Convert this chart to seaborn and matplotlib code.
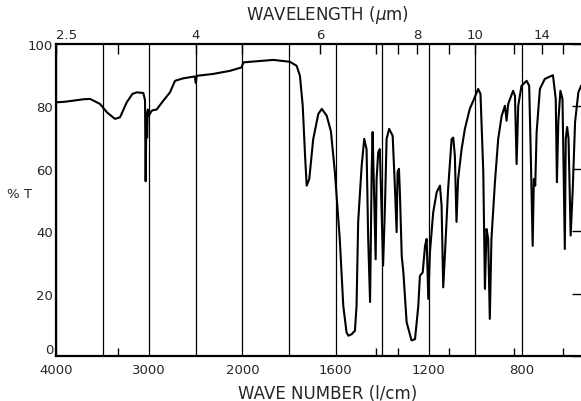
import numpy as np
import pandas as pd
import seaborn as sns
import matplotlib.pyplot as plt

# IR spectrum: wave number (1/cm) and % transmittance
wavenumber = [4000, 3900, 3700, 3635, 3528, 3450, 3367, 3313, 3241, 3180, 3134, 3063,
              3045, 3038, 3030, 3022, 3015, 3005, 2973, 2956, 2920, 2849, 2777, 2723,
              2634, 2510, 2500, 2490, 2315, 2133, 2008, 1996, 1967, 1867, 1796, 1767,
              1753, 1741, 1731, 1724, 1713, 1696, 1674, 1659, 1638, 1620, 1603, 1582,
              1567, 1553, 1545, 1530, 1524, 1517, 1510, 1503, 1488, 1477, 1467, 1460,
              1452, 1445, 1441, 1435, 1428, 1424, 1417, 1410, 1403, 1396, 1388, 1381,
              1370, 1355, 1345, 1338, 1334, 1328, 1324, 1316, 1309, 1295, 1274, 1259,
              1245, 1238, 1226, 1216, 1209, 1202, 1195, 1181, 1166, 1152, 1145, 1138,
              1131, 1117, 1102, 1095, 1088, 1081, 1074, 1059, 1045, 1024, 1009, 988,
              978, 966, 959, 952, 945, 938, 931, 916, 902, 887, 873, 866, 859, 838,
              830, 823, 816, 802, 780, 769, 763, 754, 749, 743, 737, 723, 702, 667,
              655, 650, 644, 635, 626, 620, 616, 612, 606, 600, 591, 582, 572, 558,
              546, 538]
transmittance = [81.3, 81.5, 82.3, 82.4, 80.8, 78.0, 76.0, 76.5, 81.3, 84.0, 84.5, 84.3,
                 82.0, 56.0, 78.0, 70.0, 79.0, 77.0, 78.6, 78.8, 79.0, 81.8, 84.5, 88.2,
                 89.0, 89.6, 87.5, 89.8, 90.4, 91.4, 92.5, 94.1, 94.3, 94.9, 94.3, 93.0,
                 89.8, 80.2, 64.2, 54.6, 56.7, 69.5, 77.6, 79.2, 77.0, 72.0, 58.9, 37.5,
                 16.1, 7.6, 6.5, 7.0, 7.6, 8.0, 16.0, 43.0, 61.0, 69.6, 66.3, 37.5,
                 17.3, 59.0, 71.8, 53.5, 31.0, 56.7, 65.3, 66.3, 48.2, 29.0, 48.0, 69.6,
                 72.8, 70.6, 53.5, 39.7, 59.0, 60.0, 52.5, 32.0, 26.8, 10.8, 5.0, 5.4,
                 16.0, 25.7, 26.8, 35.3, 37.5, 18.3, 33.2, 46.0, 52.5, 54.6, 48.2, 22.0,
                 32.0, 53.5, 69.5, 70.0, 64.2, 43.0, 56.7, 66.3, 72.8, 79.2, 81.8, 85.6,
                 84.0, 59.0, 21.5, 40.7, 37.5, 11.9, 37.5, 55.7, 69.6, 77.0, 80.2, 75.4,
                 80.8, 85.0, 83.4, 61.5, 80.2, 86.6, 88.2, 86.6, 67.4, 35.3, 56.7, 54.6,
                 71.8, 85.6, 88.8, 90.0, 82.4, 55.7, 75.0, 85.0, 82.4, 53.5, 34.3, 69.6,
                 73.4, 69.6, 38.6, 53.5, 75.0, 84.5, 86.6, 87.5]

grid_wn = [4000, 3500, 3000, 2500, 2000, 1800, 1600, 1400, 1200, 1000, 800]
grid_labels = ['4000', '', '3000', '', '2000', '', '1600', '', '1200', '', '800']
um_major = [2.5, 4, 6, 8, 10, 14]
um_minor = [3, 5, 7, 7.5, 9, 12, 16]
t_ticks = [0, 20, 40, 60, 80, 100]


# chart paper: 500 1/cm per division above 2000, 200 1/cm per division below
def fwd(w):
    w = np.asarray(w, dtype=float)
    return np.where(w >= 2000, (4000 - w) / 500, 4 + (2000 - w) / 200)


def inv(u):
    u = np.asarray(u, dtype=float)
    return np.where(u <= 4, 4000 - 500 * u, 2000 - 200 * (u - 4))


sns.set_style("white")
plt.rcParams['font.family'] = ['DejaVu Sans']

df = pd.DataFrame({'wn': wavenumber, 'T': transmittance})

fig = plt.figure(figsize=(5.81, 4.02), dpi=100)
ax = fig.add_axes([56 / 581, 45 / 402, 527 / 581, 312 / 402])
ax.set_xscale('function', functions=(fwd, inv))

sns.lineplot(data=df, x='wn', y='T', color='black', linewidth=1.5,
             estimator=None, ax=ax)

ax.set_xlim(538, 4000)
ax.set_ylim(0, 100)

ax.set_xticks(grid_wn)
ax.set_xticklabels(grid_labels, fontsize=9.5)
ax.set_xticks([1e4 / l for l in um_minor], minor=True)
ax.tick_params(axis='x', which='major', length=0, pad=5)
ax.tick_params(axis='x', which='minor', direction='in', length=6, width=1, color='black')
ax.xaxis.grid(True, which='major', color='black', linewidth=0.9)

ax.set_yticks(t_ticks)
ax.set_yticklabels([str(t) for t in t_ticks], fontsize=9.5)
ax.get_yticklabels()[0].set_va('bottom')
ax.tick_params(axis='y', direction='in', length=8, width=1, right=True,
               color='black', pad=2)

for side in ['left', 'bottom', 'top', 'right']:
    ax.spines[side].set_color('black')
    ax.spines[side].set_linewidth(1.6)

ax.set_xlabel('WAVE NUMBER (l/cm)', fontsize=12)
ax.xaxis.set_label_coords(0.515, -0.09)
ax.set_ylabel('% T', fontsize=9.5, rotation=0)
ax.yaxis.set_label_coords(-0.07, 0.5)

# wavelength scale along the top
top = ax.twiny()
top.set_xscale('function', functions=(fwd, inv))
top.set_xlim(ax.get_xlim())
top.set_xticks([1e4 / l for l in um_major])
top.set_xticklabels([f'{l:g}' for l in um_major], fontsize=9.5)
top.get_xticklabels()[0].set_ha('left')
top.set_xticks([1e4 / l for l in um_minor], minor=True)
top.tick_params(axis='x', which='both', direction='in', length=7, width=1,
                color='black', pad=2)
top.set_xlabel(r'WAVELENGTH ($\mu$m)', fontsize=12)
top.xaxis.set_label_coords(0.515, 1.08)
for side in top.spines:
    top.spines[side].set_visible(False)

fig.savefig('out.png', dpi=100)
